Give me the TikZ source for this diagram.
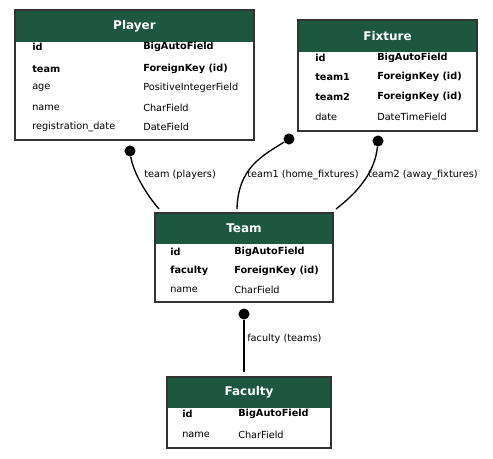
\documentclass[tikz,border=0pt]{standalone}
\usepackage{fontspec}
\setmainfont{DejaVu Sans}
\definecolor{hdrgreen}{RGB}{29,87,64}
\tikzset{
  tbl/.style={fill=white, anchor=north west, inner sep=0pt, outer sep=0pt},
  tblline/.style={draw=black!80, line width=1pt},
  title/.style={text=white, font=\fontsize{9}{10}\bfseries\selectfont, inner sep=0.75pt},
  fld/.style={anchor=west, inner sep=0.75pt, font=\fontsize{7.3}{8}\selectfont},
  key/.style={anchor=west, inner sep=0.75pt, font=\fontsize{7.3}{8}\bfseries\selectfont},
  dot/.style={circle, fill=black, inner sep=0pt, minimum size=8.3pt},
  rel/.style={line width=1pt},
  rellabel/.style={anchor=west, inner sep=0.75pt, font=\fontsize{7.3}{8}\selectfont},
}

\begin{document}
\begin{tikzpicture}[x=0.75pt,y=0.75pt,yscale=-1,xscale=1]
\useasboundingbox (0,0) rectangle (493,459);

%Shape: Table Player
\node[tbl, minimum width=239*0.75pt, minimum height=130*0.75pt] (player) at (15,10) {};
\fill[hdrgreen] (15,10) rectangle (254,42);
\draw[tblline] (player.north west) rectangle (player.south east);
% Text Node
\node[title] (playerTitle) at (134.5,26) {Player};
\node[key] (playerId) at (31,47) {id};
\node[key] (playerIdT) at (142,47) {BigAutoField};
\node[key] (playerTeam) at (31,69) {team};
\node[key] (playerTeamT) at (142,69) {ForeignKey (id)};
\node[fld] (playerAge) at (31,88) {age};
\node[fld] (playerAgeT) at (142,88) {PositiveIntegerField};
\node[fld] (playerName) at (31,108) {name};
\node[fld] (playerNameT) at (142,108) {CharField};
\node[fld] (playerReg) at (31,127) {registration\_date};
\node[fld] (playerRegT) at (142,127) {DateField};

%Shape: Table Fixture
\node[tbl, minimum width=179*0.75pt, minimum height=111*0.75pt] (fixture) at (298,20) {};
\fill[hdrgreen] (298,20) rectangle (477,52);
\draw[tblline] (fixture.north west) rectangle (fixture.south east);
% Text Node
\node[title] (fixtureTitle) at (387.5,36) {Fixture};
\node[key] (fixtureId) at (314,58) {id};
\node[key] (fixtureIdT) at (376,58) {BigAutoField};
\node[key] (fixtureTeam1) at (314,77) {team1};
\node[key] (fixtureTeam1T) at (376,77) {ForeignKey (id)};
\node[key] (fixtureTeam2) at (314,97) {team2};
\node[key] (fixtureTeam2T) at (376,97) {ForeignKey (id)};
\node[fld] (fixtureDate) at (314,117) {date};
\node[fld] (fixtureDateT) at (376,117) {DateTimeField};

%Shape: Table Team
\node[tbl, minimum width=178*0.75pt, minimum height=89*0.75pt] (team) at (155,213) {};
\fill[hdrgreen] (155,213) rectangle (333,244);
\draw[tblline] (team.north west) rectangle (team.south east);
% Text Node
\node[title] (teamTitle) at (244,228.5) {Team};
\node[key] (teamId) at (169,252) {id};
\node[key] (teamIdT) at (233,252) {BigAutoField};
\node[key] (teamFaculty) at (169,271) {faculty};
\node[key] (teamFacultyT) at (233,271) {ForeignKey (id)};
\node[fld] (teamName) at (169,290) {name};
\node[fld] (teamNameT) at (233,290) {CharField};

%Shape: Table Faculty
\node[tbl, minimum width=164*0.75pt, minimum height=71*0.75pt] (faculty) at (167,377) {};
\fill[hdrgreen] (167,377) rectangle (331,408);
\draw[tblline] (faculty.north west) rectangle (faculty.south east);
% Text Node
\node[title] (facultyTitle) at (249,392.5) {Faculty};
\node[key] (facultyId) at (181,414) {id};
\node[key] (facultyIdT) at (237,414) {BigAutoField};
\node[fld] (facultyName) at (181,435) {name};
\node[fld] (facultyNameT) at (237,435) {CharField};

%Shape: Relations
\node[dot] (playerDot) at (130,151) {};
\node[dot] (team1Dot) at (289,139) {};
\node[dot] (team2Dot) at (378,141) {};
\node[dot] (facultyDot) at (244,314) {};
\coordinate (teamIn1) at (159,209);
\coordinate (teamIn2) at (237,209);
\coordinate (teamIn3) at (336,209);
\coordinate (facultyIn) at (244,372);

\draw[rel] (playerDot) .. controls (133,172) and (146,194) .. (teamIn1);
\draw[rel] (team1Dot) .. controls (262,156) and (238,168) .. (teamIn2);
\draw[rel] (team2Dot) .. controls (375,172) and (358,192) .. (teamIn3);
\draw[rel] (facultyDot) -- (facultyIn);

% Text Node
\node[rellabel] (playerRel) at (143,175) {team (players)};
\node[rellabel] (home) at (246,175) {team1 (home\_fixtures)};
\node[rellabel] (away) at (367,175) {team2 (away\_fixtures)};
\node[rellabel] (teamsRel) at (246,339) {faculty (teams)};

\end{tikzpicture}
\end{document}
